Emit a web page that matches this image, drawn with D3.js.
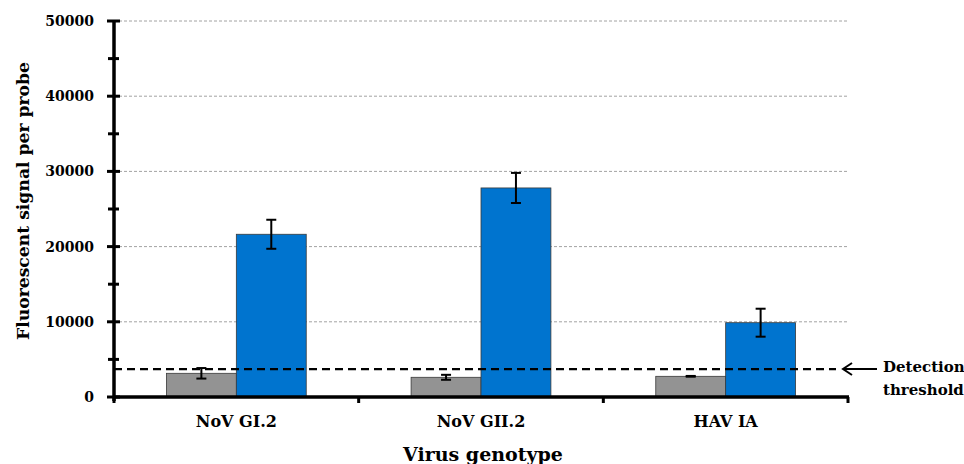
<!DOCTYPE html>
<html><head><meta charset="utf-8">
<script src="https://cdn.jsdelivr.net/npm/d3@7"></script>
<style>body{margin:0;background:#fff}svg{display:block}text{font-family:"DejaVu Serif",serif;font-weight:bold;fill:#000}</style>
</head><body><svg id="c" width="964" height="464"></svg>
<script>
const categories = ["NoV GI.2", "NoV GII.2", "HAV IA"];
const seriesNames = ["Negative", "Positive"];
const negValues = [3150, 2620, 2750];
const negErrors = [700, 330, 50];
const posValues = [21640, 27800, 9880];
const posErrors = [1930, 2000, 1860];
const yTicks = [0, 5000, 10000, 15000, 20000, 25000, 30000, 35000, 40000, 45000, 50000];
const yLabelTicks = [0, 10000, 20000, 30000, 40000, 50000];
const gridTicks = [10000, 20000, 30000, 40000, 50000];
const threshold = 3720;
const colors = ["#939393", "#0074cf"];

const svg = d3.select("#c");
const L = 114, R = 848, T = 21, B = 397;
const x = d3.scaleBand().domain(categories).range([L, R]);
const xs = d3.scaleBand().domain(seriesNames).range([0, x.bandwidth()]).paddingOuter(0.75);
const y = d3.scaleLinear().domain([0, 50000]).range([B, T]);

// grid
svg.append("g").selectAll("line").data(gridTicks).join("line")
  .attr("x1", L).attr("x2", R).attr("y1", d => y(d)).attr("y2", d => y(d))
  .attr("stroke", "#8a8a8a").attr("stroke-width", 0.8).attr("stroke-dasharray", "3,2");

// bars
const data = [];
categories.forEach((c, i) => {
  data.push({c, s: seriesNames[0], v: negValues[i], e: negErrors[i], col: colors[0]});
  data.push({c, s: seriesNames[1], v: posValues[i], e: posErrors[i], col: colors[1]});
});
svg.append("g").selectAll("rect").data(data).join("rect")
  .attr("x", d => x(d.c) + xs(d.s)).attr("width", xs.bandwidth())
  .attr("y", d => y(d.v)).attr("height", d => y(0) - y(d.v))
  .attr("fill", d => d.col).attr("stroke", "#3a3a3a").attr("stroke-width", 0.8);

// error bars
const eb = svg.append("g").attr("stroke", "#000").attr("stroke-width", 2);
data.forEach(d => {
  const cx = x(d.c) + xs(d.s) + xs.bandwidth() / 2;
  eb.append("line").attr("x1", cx).attr("x2", cx).attr("y1", y(d.v + d.e)).attr("y2", y(d.v - d.e));
  [d.v + d.e, d.v - d.e].forEach(v => eb.append("line").attr("x1", cx - 5).attr("x2", cx + 5).attr("y1", y(v)).attr("y2", y(v)));
});

// threshold
svg.append("line").attr("x1", L).attr("x2", 836).attr("y1", y(threshold)).attr("y2", y(threshold))
  .attr("stroke", "#000").attr("stroke-width", 2.2).attr("stroke-dasharray", "8,5");
const ty = y(threshold);
svg.append("line").attr("x1", 843).attr("x2", 877).attr("y1", ty).attr("y2", ty).attr("stroke", "#000").attr("stroke-width", 2);
svg.append("path").attr("d", `M${852},${ty - 6}L${843},${ty}L${852},${ty + 6}`).attr("fill", "none").attr("stroke", "#000").attr("stroke-width", 2);
const tt = svg.append("text").attr("x", 883).attr("font-size", 15);
tt.append("tspan").attr("x", 883).attr("y", ty + 3).text("Detection");
tt.append("tspan").attr("x", 883).attr("y", ty + 26).text("threshold");

// y axis
const ya = svg.append("g");
ya.append("line").attr("x1", L).attr("x2", L).attr("y1", T - 1).attr("y2", B + 4).attr("stroke", "#000").attr("stroke-width", 3.5);
ya.selectAll(".t").data(yTicks).join("line")
  .attr("x1", d => d % 10000 === 0 ? L - 7 : L - 6).attr("x2", d => d % 10000 === 0 ? L + 6 : L + 5)
  .attr("y1", d => y(d)).attr("y2", d => y(d)).attr("stroke", "#000").attr("stroke-width", 3);
ya.selectAll("text").data(yLabelTicks).join("text")
  .attr("x", 94).attr("y", d => y(d)).attr("dy", "0.36em").attr("text-anchor", "end").attr("font-size", 14)
  .text(d => d3.format("d")(d));

// x axis
const xa = svg.append("g");
xa.append("line").attr("x1", L - 1).attr("x2", R + 1).attr("y1", B).attr("y2", B).attr("stroke", "#000").attr("stroke-width", 3.5);
const bounds = categories.map(c => x(c)).concat([R]);
xa.selectAll(".t").data(bounds).join("line")
  .attr("x1", d => d).attr("x2", d => d).attr("y1", B).attr("y2", B + 6).attr("stroke", "#000").attr("stroke-width", 3);
xa.selectAll("text").data(categories).join("text")
  .attr("x", d => x(d) + x.bandwidth() / 2).attr("y", 427).attr("text-anchor", "middle").attr("font-size", 16)
  .text(d => d);

svg.append("text").attr("x", 483).attr("y", 461).attr("text-anchor", "middle").attr("font-size", 19).text("Virus genotype");
svg.append("text").attr("transform", "translate(29,201) rotate(-90)").attr("text-anchor", "middle").attr("font-size", 17.2).text("Fluorescent signal per probe");
</script></body></html>
